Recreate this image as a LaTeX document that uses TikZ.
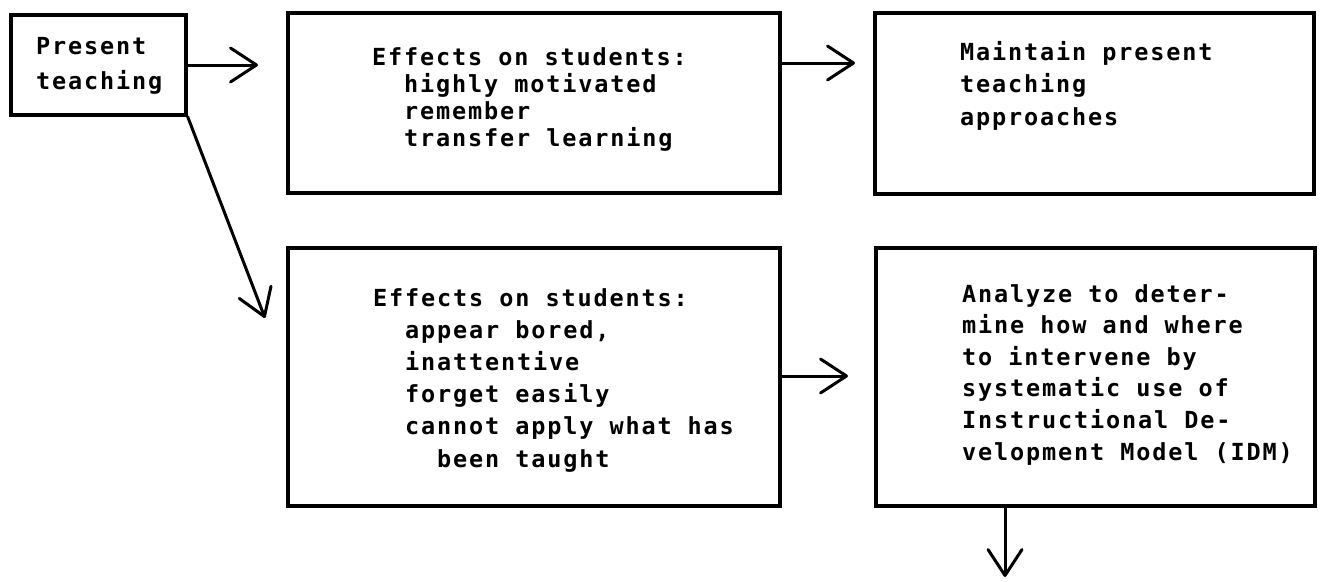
\documentclass[tikz,border=0pt]{standalone}
\usepackage{fontspec}
\usetikzlibrary{arrows.meta}
\newfontfamily\typewr[LetterSpace=7.9]{DejaVu Sans Mono}
\begin{document}
\begin{tikzpicture}[x=1pt,y=-1pt,
    box/.style={draw, line width=3.3pt, inner sep=0pt, line join=miter},
    label/.style={inner sep=0pt, anchor=base west, align=left},
    conn/.style={line width=3pt, line cap=round,
      -{Straight Barb[length=26pt, width=34pt, line cap=round, line join=round]}}]
  \useasboundingbox (0,0) rectangle (1322,581);
  \def\tfont#1{\typewr\bfseries\fontsize{23.5}{#1}\selectfont}

  % boxes
  \node[box, minimum width=175pt, minimum height=100pt] (pt)   at (98.5,65)   {};
  \node[box, minimum width=492pt, minimum height=180pt] (eff1) at (534,103)   {};
  \node[box, minimum width=439pt, minimum height=181pt] (keep) at (1094.5,103.5) {};
  \node[box, minimum width=492pt, minimum height=258pt] (eff2) at (534,377)   {};
  \node[box, minimum width=439pt, minimum height=258pt] (idm)  at (1095.5,377) {};

  % texts (anchored at the baseline of their last line)
  \node[label, font=\tfont{35}] (ptt) at (36,89) {Present\\teaching};
  \node[label, font=\tfont{27}] (eff1t) at (372,146)
    {Effects on students:\\
     \hspace*{32pt}highly motivated\\
     \hspace*{32pt}remember\\
     \hspace*{32pt}transfer learning};
  \node[label, font=\tfont{32.5}] (keept) at (960,125)
    {Maintain present\\teaching\\approaches};
  \node[label, font=\tfont{32.2}] (eff2t) at (373,467)
    {Effects on students:\\
     \hspace*{32pt}appear bored,\\
     \hspace*{32pt}inattentive\\
     \hspace*{32pt}forget easily\\
     \hspace*{32pt}cannot apply what has\\
     \hspace*{64pt}been taught};
  \node[label, font=\tfont{31.6}] (idmt) at (962,460)
    {Analyze to deter-\\mine how and where\\to intervene by\\systematic use of\\
     Instructional De-\\velopment Model (IDM)};

  % free ends of the connectors
  \coordinate (a1) at (258,65);
  \coordinate (a2) at (855,63);
  \coordinate (a3) at (848,376);
  \coordinate (a4) at (265,318);
  \coordinate (a5) at (1005,577);

  % connectors
  \draw[conn] (pt.east) -- (a1);
  \draw[conn] (eff1.east |- a2) -- (a2);
  \draw[conn] (eff2.east |- a3) -- (a3);
  \draw[conn] (pt.south east) -- (a4);
  \draw[conn] (idm.south -| a5) -- (a5);
\end{tikzpicture}
\end{document}
